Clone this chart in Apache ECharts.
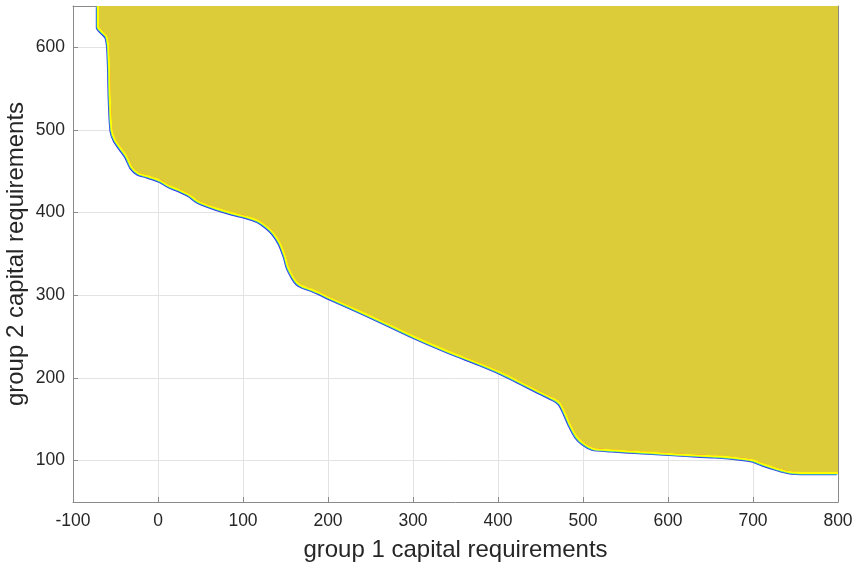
<!DOCTYPE html>
<html>
<head>
<meta charset="utf-8">
<script src="https://cdn.jsdelivr.net/npm/echarts@6/dist/echarts.min.js"></script>
<style>
  html, body { margin: 0; padding: 0; background: #fff; }
  #chart { width: 857px; height: 570px; }
</style>
</head>
<body>
<div id="chart"></div>
<script>
// Boundary of the feasible region (group 1 vs group 2 capital requirements)
const boundaryX = [-70.6, -70.6, -66, -60.5, -58.5, -57.5, -56.5, -54.5, -50.5, -42.5,
  -37, -31, -23, -12, 2, 14, 26, 37.5, 45, 53,
  69, 88.5, 104, 118, 128, 136, 143.5, 149.5, 153, 159,
  164, 170, 178, 190, 202, 226, 260, 302, 343, 379, 402, 426,
  449, 465, 473, 479, 485, 492.5, 500.5, 512, 535, 567,
  598, 618, 657, 688, 700, 712, 728, 743, 763, 800];
const boundaryY = [650, 625, 619, 613, 601, 577, 536, 500, 488, 476,
  468, 455, 447.5, 444, 439, 432, 427, 421, 415, 411,
  405, 399, 395, 390, 383, 375, 363, 347, 334, 322,
  315, 311, 308, 303, 297, 286, 270, 249.6, 231.5, 217, 207, 195,
  183, 175, 169, 157, 143, 129, 121, 114.5, 112.5, 110.4,
  108.5, 107.3, 105.2, 102.4, 100.4, 95.6, 90.3, 86.2, 85, 85];
const xTicks = [-100, 0, 100, 200, 300, 400, 500, 600, 700, 800];
const yTicks = [100, 200, 300, 400, 500, 600];
const xLabel = 'group 1 capital requirements';
const yLabel = 'group 2 capital requirements';

const pts = boundaryX.map((x, i) => [x, boundaryY[i]]);
const FONT = '"Liberation Sans", Arial, Helvetica, sans-serif';
const axisGray = '#8a8a8a';
const gridGray = '#e3e3e3';
const textCol = '#262626';

const chart = echarts.init(document.getElementById('chart'), null, { renderer: 'canvas' });
chart.setOption({
  animation: false,
  backgroundColor: '#ffffff',
  grid: { left: 73, right: 19, top: 6, bottom: 68, containLabel: false, outerBoundsMode: 'none' },
  xAxis: [{
    type: 'value', min: -100, max: 800, interval: 100,
    name: xLabel, nameLocation: 'middle', nameGap: 36,
    nameTextStyle: { fontFamily: FONT, fontSize: 24, color: textCol },
    axisLine: { show: true, onZero: false, lineStyle: { color: axisGray, width: 1 } },
    axisTick: { show: true, inside: true, length: 5, lineStyle: { color: axisGray } },
    axisLabel: { fontFamily: FONT, fontSize: 17.5, color: textCol, margin: 10 },
    splitLine: { show: true, lineStyle: { color: gridGray, width: 1 } }
  }, {
    type: 'value', min: -100, max: 800, position: 'top',
    axisLine: { show: true, onZero: false, lineStyle: { color: axisGray, width: 1 } },
    axisTick: { show: false }, axisLabel: { show: false }, splitLine: { show: false }
  }],
  yAxis: [{
    type: 'value', min: 50, max: 650,
    name: yLabel, nameLocation: 'middle', nameGap: 45, nameMoveOverlap: false,
    nameTextStyle: { fontFamily: FONT, fontSize: 24, color: textCol },
    axisLine: { show: true, onZero: false, lineStyle: { color: axisGray, width: 1 } },
    axisTick: { show: true, inside: true, length: 5, customValues: yTicks, lineStyle: { color: axisGray } },
    axisLabel: { fontFamily: FONT, fontSize: 17.5, color: textCol, margin: 8, customValues: yTicks },
    splitLine: { show: true, lineStyle: { color: gridGray, width: 1 } }
  }, {
    type: 'value', min: 50, max: 650, position: 'right',
    axisLine: { show: true, onZero: false, lineStyle: { color: axisGray, width: 1 } },
    axisTick: { show: false }, axisLabel: { show: false }, splitLine: { show: false }
  }],
  series: [{
    type: 'line', data: pts, showSymbol: false, symbol: 'none', z: 2, smooth: 0.25,
    lineStyle: { width: 0 },
    areaStyle: { color: '#DDCC3A', opacity: 1, origin: 'end' }
  }, {
    type: 'line', data: pts, showSymbol: false, symbol: 'none', z: 3, smooth: 0.25,
    lineStyle: { color: '#ff2080', width: 1.8, shadowColor: '#3030ee', shadowBlur: 0, shadowOffsetX: -1.3, shadowOffsetY: 1.3 }
  }, {
    type: 'line', data: pts, showSymbol: false, symbol: 'none', z: 4, smooth: 0.25,
    lineStyle: { color: '#ffff00', width: 2, shadowColor: '#40d0b0', shadowBlur: 0, shadowOffsetX: -0.6, shadowOffsetY: 0.6 }
  }]
});
</script>
</body>
</html>
